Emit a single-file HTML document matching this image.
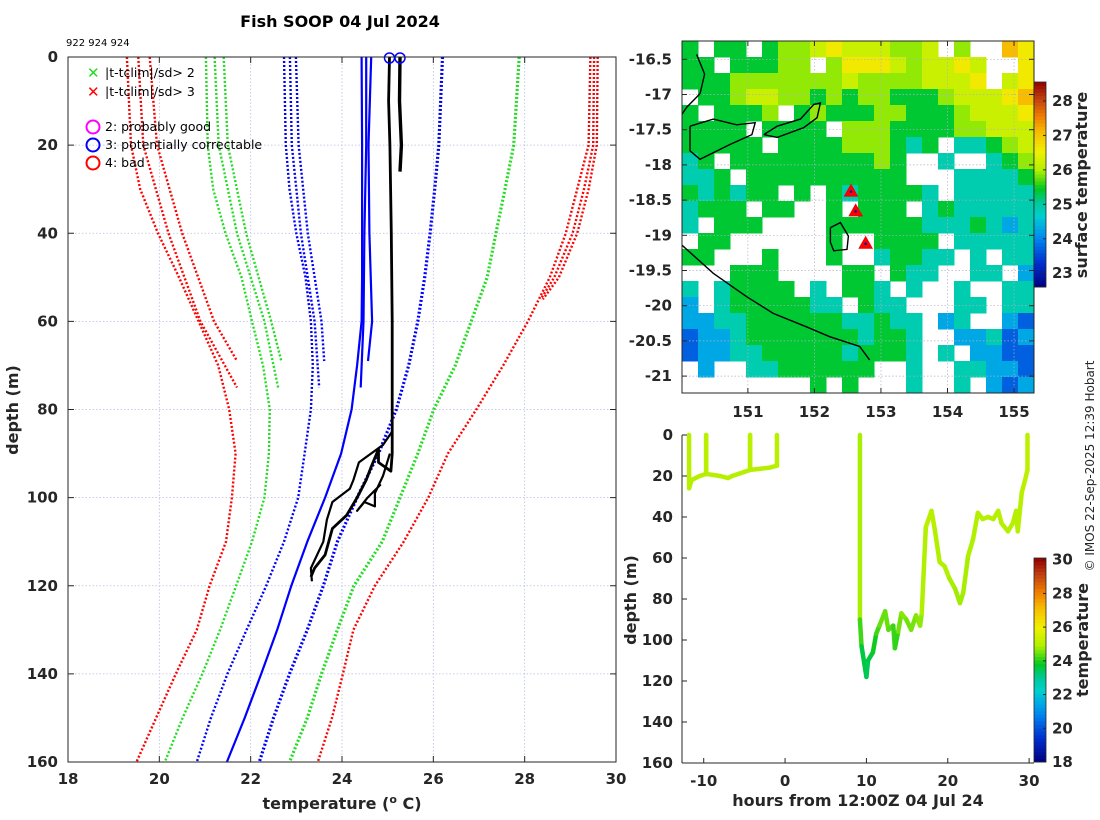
<!DOCTYPE html>
<html><head><meta charset="utf-8"><title>Fish SOOP 04 Jul 2024</title>
<style>
html,body{margin:0;padding:0;background:#fff;}
svg{display:block;font-family:"DejaVu Sans","Liberation Sans",sans-serif;}
.tk{font-size:15px;font-weight:bold;fill:#262626;}
.lab{font-size:16px;font-weight:bold;fill:#262626;}
.leg{font-size:12.5px;fill:#000;}
</style></head>
<body>
<svg id="fig" width="1100" height="820" viewBox="0 0 1100 820" xmlns="http://www.w3.org/2000/svg">
<text x="340" y="27" text-anchor="middle" style="font-size:16px;font-weight:bold;fill:#000">Fish SOOP 04 Jul 2024</text>
<text x="66" y="46" style="font-size:10px;fill:#000">922 924 924</text>
<g id="main"></g>
<g id="map"></g>
<g id="ts"></g>
<text transform="translate(1094,466) rotate(-90)" text-anchor="middle" style="font-size:12px;fill:#262626">© IMOS 22-Sep-2025 12:39 Hobart</text>
</svg>
<script>
// ---------------- profile plot data (depth m, temperature C) ----------------
const profDepths = [0,20,30,40,50,60,70,80,90,100,110,120,130,140,150,160];
const redLeftLong   = [19.29,19.38,19.58,19.97,20.43,20.86,21.29,21.53,21.67,21.59,21.46,21.10,20.82,20.36,19.93,19.50];
const greenLeftLong = [21.02,21.06,21.18,21.45,21.80,22.03,22.27,22.42,22.40,22.30,22.03,21.68,21.33,20.94,20.51,20.12];
const blueDotLong   = [22.73,22.77,22.85,23.00,23.20,23.32,23.36,23.32,23.18,23.04,22.73,22.34,21.91,21.49,21.13,20.82];
const blueSolidLong = [24.43,24.44,24.44,24.44,24.44,24.43,24.33,24.21,23.98,23.63,23.24,22.89,22.58,22.23,21.87,21.48];
const blueDotRight  = [26.20,26.12,26.03,25.93,25.81,25.66,25.46,25.19,24.80,24.33,23.90,23.59,23.24,22.85,22.50,22.19];
const greenRight    = [27.88,27.76,27.57,27.37,27.18,26.83,26.48,26.01,25.66,25.27,24.88,24.26,23.90,23.55,23.24,22.85];
const redRight      = [29.44,29.40,29.15,28.90,28.55,28.07,27.53,26.94,26.32,25.89,25.35,24.72,24.25,24.02,23.78,23.47];
const shortDepthsA = [0,20,40,60,75];
const shortDepthsB = [0,20,40,60,69];
const redShortA   = [19.54,19.65,20.20,20.90,21.70];
const redShortB   = [19.79,19.95,20.50,21.20,21.70];
const greenShortA = [21.21,21.30,21.70,22.30,22.60];
const greenShortB = [21.41,21.50,21.90,22.45,22.67];
const blueShortA  = [22.86,22.90,23.10,23.40,23.50];
const blueShortB  = [22.99,23.05,23.25,23.55,23.61];
const blueSolidA  = [24.53,24.53,24.49,24.47,24.41];
const blueSolidB  = [24.64,24.58,24.60,24.66,24.57];
const redRightDepths = [0,20,30,40,50,55];
const redRightB = [29.52,29.50,29.30,29.05,28.65,28.35];
const redRightC = [29.60,29.58,29.40,29.15,28.75,28.40];
const obsA_depth = [0,10,20,40,60,80,90,94,92,89,93,96,100,104,107,113,116,118];
const obsA_temp  = [25.04,25.02,25.05,25.08,25.10,25.10,25.10,25.07,24.80,24.80,24.64,24.53,24.33,24.10,23.79,23.63,23.40,23.32];
const obsB_depth = [85,88,92,96,98,101,105,110,116,119];
const obsB_temp  = [25.10,24.90,24.37,24.25,24.17,23.79,23.67,23.59,23.32,23.34];
const obsC_depth = [90,95,99,102,101,103,100,97];
const obsC_temp  = [25.05,24.90,24.72,24.72,24.49,24.33,24.56,24.85];
const obsD_depth = [0,10,20,26];
const obsD_temp  = [25.27,25.26,25.30,25.27];
const flagDepth = [0,0];
const flagTemp  = [25.04,25.27];
const tempTicks = [18,20,22,24,26,28,30];
const depthTicks = [0,20,40,60,80,100,120,140,160];

// ---------------- map data ----------------
const lonTicks = [151,152,153,154,155];
const latTicks = [-16.5,-17,-17.5,-18,-18.5,-19,-19.5,-20,-20.5,-21];
const mapCodeTemps = [null,23.7,24.3,24.9,25.4,25.9,26.2,26.6,27.1];
const mapRows = [
"4.44.45567666556.5..87",
"44.44455.5777656676..7",
"4445555555655556667.67",
".445665545455444566678",
"4.4445.454445544456667",
"4444.4444.555444455666",
"44444.4444555434.33456",
"34.44444444454..3..345",
"334.4444444444...33334",
"434344.4.4344443.33333",
"3444.44..4.444.3433333",
"3.444....4444443334323",
".44......4..4444.33333",
"44...4...4..34433.3.33",
"...444....44.433..33.2",
"3.34444.3.443.3..3..33",
"2.34444433.433...33.33",
"223344444433433.23..21",
"122344444443443..22312",
"122334444434443.3.2211",
".2..33444444..3..33221",
"........4.4...3..3.212"
];
const tripLon = [152.55,152.62,152.77];
const tripLat = [-18.38,-18.66,-19.12];
const coastIslandN_lon = [150.23,150.35,150.28,150.08,150.01];
const coastIslandN_lat = [-16.43,-16.71,-16.99,-17.18,-17.28];
const islandA_lon = [150.13,150.48,150.83,151.11,151.06,150.73,150.28,150.13,150.13];
const islandA_lat = [-17.45,-17.35,-17.43,-17.40,-17.57,-17.71,-17.92,-17.80,-17.45];
const islandB_lon = [151.24,151.44,151.79,151.99,152.09,152.04,151.84,151.44,151.24];
const islandB_lat = [-17.57,-17.45,-17.35,-17.14,-17.12,-17.33,-17.47,-17.61,-17.57];
const islandC_lon = [152.24,152.39,152.51,152.49,152.29,152.24,152.24];
const islandC_lat = [-18.89,-18.82,-19.01,-19.20,-19.22,-19.10,-18.89];
const mainland_lon = [150.01,150.48,150.98,151.38,151.88,152.23,152.68,152.83];
const mainland_lat = [-19.14,-19.54,-19.87,-20.11,-20.30,-20.44,-20.58,-20.77];
const sstTicks = [23,24,25,26,27,28];

// ---------------- time-depth data ----------------
const tdHours = [-11.8,-11.8,-11.5,-10.5,-9.7,-9.7,-9.7,-8,-7,-6.5,-5,-4.3,-4.3,-4.3,-2,-1,-1];
const tdDepth = [0,26,22,20,19,0,19,20,21,20,18,17,0,17,16,15,0];
const tdTemp  = [25.1,25.0,25.0,25.0,25.0,25.1,25.0,25.0,25.0,25.0,25.0,25.0,25.1,25.0,25.0,25.0,25.1];
const td2Hours = [9.2,9.2,9.4,10.0,10.2,10.8,11.2,11.6,12.3,12.7,13.3,13.5,13.9,14.3,14.9,15.5,16.1,16.6,16.8,17.3,18.0,18.4,19.0,19.6,20.2,20.9,21.5,21.9,22.5,23.1,23.7,24.3,24.96,25.6,26.2,26.6,27.4,28.0,28.4,28.6,29.1,29.5,29.8,29.8];
const td2Depth = [0,90,103,118,110,106,97,93,86,95,93,104,96,87,90,95,88,93,87,45,37,46,62,64,70,75,82,77,59,51,38,41,40,41,37,43,47,43,37,47,28,22,17,0];
const td2Temp  = [25.1,24.6,23.8,23.4,23.5,23.7,24.1,24.3,24.6,24.3,24.4,23.9,24.3,24.7,24.6,24.4,24.7,24.6,24.8,25.0,25.1,25.0,24.9,24.9,24.9,24.8,24.8,24.8,24.9,24.9,25.0,25.0,25.0,25.0,25.0,25.0,25.0,25.0,25.0,25.0,25.0,25.1,25.1,25.1];
const hourTicks = [-10,0,10,20,30];
const tempCbTicks = [18,20,22,24,26,28,30];

// ---------------- helpers ----------------
const NS='http://www.w3.org/2000/svg';
function mk(parent,tag,attrs,txt){const e=document.createElementNS(NS,tag);for(const k in attrs)e.setAttribute(k,attrs[k]);if(txt!==undefined)e.textContent=txt;parent.appendChild(e);return e;}
const cmapStops=[[0,[0,0,128]],[0.12,[0,48,208]],[0.25,[0,144,240]],[0.35,[0,208,208]],[0.42,[0,200,144]],[0.48,[0,200,32]],[0.57,[176,240,0]],[0.66,[240,240,0]],[0.75,[248,192,0]],[0.83,[240,128,0]],[0.92,[192,64,16]],[1,[144,0,0]]];
function cmap(f){f=Math.max(0,Math.min(1,f));for(let i=1;i<cmapStops.length;i++){if(f<=cmapStops[i][0]){const a=cmapStops[i-1],b=cmapStops[i];const t=(f-a[0])/(b[0]-a[0]);const c=a[1].map((v,j)=>Math.round(v+(b[1][j]-v)*t));return 'rgb('+c.join(',')+')';}}return 'rgb(144,0,0)';}

// ---------------- main profile plot ----------------
const M=document.getElementById('main');
const mx0=68,mx1=616,my0=57,my1=762;
const xT=t=>mx0+(t-18)/12*(mx1-mx0);
const yD=d=>my0+d/160*(my1-my0);
for(const t of tempTicks){
  const g=mk(M,'line',{x1:xT(t),x2:xT(t),y1:my0,y2:my1,stroke:'#b8bfe0','stroke-width':0.8,'stroke-dasharray':'1.5,2'});
  
  
  const l=mk(M,'text',{x:xT(t),y:my1+22,'text-anchor':'middle','class':'tk'},String(t));
  
  
  const tk=mk(M,'line',{x1:xT(t),x2:xT(t),y1:my0,y2:my0+6,stroke:'#262626'});
  
  
  const tk2=mk(M,'line',{x1:xT(t),x2:xT(t),y1:my1,y2:my1-6,stroke:'#262626'});
  
  
}
for(const d of depthTicks){
  const g=mk(M,'line',{x1:mx0,x2:mx1,y1:yD(d),y2:yD(d),stroke:'#b8bfe0','stroke-width':0.8,'stroke-dasharray':'1.5,2'});
  
  
  const l=mk(M,'text',{x:mx0-10,y:yD(d)+5,'text-anchor':'end','class':'tk'},String(d));
  
  
  const tk=mk(M,'line',{x1:mx0,x2:mx0+6,y1:yD(d),y2:yD(d),stroke:'#262626'});
  
  
  const tk2=mk(M,'line',{x1:mx1,x2:mx1-6,y1:yD(d),y2:yD(d),stroke:'#262626'});
  
  
}
function prof(depths,temps,color,dotted,w,name){
  const pts=depths.map((d,i)=>xT(temps[i]).toFixed(1)+','+yD(d).toFixed(1)).join(' ');
  const p=mk(M,'polyline',{points:pts,fill:'none',stroke:color,'stroke-width':w,'stroke-dasharray':dotted?'2,2':'none','stroke-linejoin':'round'});
  
  
}
prof(shortDepthsA,redShortA,'#ff0000',true,2.4,'clim-3sd-low-short-a');
prof(shortDepthsB,redShortB,'#ff0000',true,2.4,'clim-3sd-low-short-b');
prof(profDepths,redLeftLong,'#ff0000',true,2.4,'clim-3sd-low');
prof(shortDepthsA,greenShortA,'#22dd22',true,2.4,'clim-2sd-low-short-a');
prof(shortDepthsB,greenShortB,'#22dd22',true,2.4,'clim-2sd-low-short-b');
prof(profDepths,greenLeftLong,'#22dd22',true,2.4,'clim-2sd-low');
prof(shortDepthsA,blueShortA,'#0000ff',true,2.4,'clim-1sd-low-short-a');
prof(shortDepthsB,blueShortB,'#0000ff',true,2.4,'clim-1sd-low-short-b');
prof(profDepths,blueDotLong,'#0000ff',true,2.4,'clim-1sd-low');
prof(shortDepthsA,blueSolidA,'#0000ff',false,2.2,'clim-mean-short-a');
prof(shortDepthsB,blueSolidB,'#0000ff',false,2.2,'clim-mean-short-b');
prof(profDepths,blueSolidLong,'#0000ff',false,2.2,'clim-mean');
prof(profDepths,blueDotRight,'#0000ff',true,3.2,'clim-1sd-high');
prof(profDepths,greenRight,'#22dd22',true,3.2,'clim-2sd-high');
prof(profDepths,redRight,'#ff0000',true,2.4,'clim-3sd-high');
prof(redRightDepths,redRightB,'#ff0000',true,2.4,'clim-3sd-high-b');
prof(redRightDepths,redRightC,'#ff0000',true,2.4,'clim-3sd-high-c');
prof(obsA_depth,obsA_temp,'#000',false,2.8,'observed-profile-a');
prof(obsB_depth,obsB_temp,'#000',false,2.2,'observed-profile-b');
prof(obsC_depth,obsC_temp,'#000',false,2.2,'observed-profile-c');
prof(obsD_depth,obsD_temp,'#000',false,3.4,'observed-profile-d');
for(let i=0;i<flagDepth.length;i++){
  const c=mk(M,'circle',{cx:xT(flagTemp[i]),cy:yD(flagDepth[i])+1,r:5,fill:'none',stroke:'#0000ff','stroke-width':1.5});
  
  
}
const box=mk(M,'rect',{x:mx0,y:my0,width:mx1-mx0,height:my1-my0,fill:'none',stroke:'#262626','stroke-width':1});


const xl=mk(M,'text',{x:342,y:809,'text-anchor':'middle','class':'lab'});
xl.innerHTML='temperature (<tspan dy="-6" style="font-size:11px">o</tspan><tspan dy="6"> C)</tspan>';


const yl=mk(M,'text',{transform:'translate(18,410) rotate(-90)','text-anchor':'middle','class':'lab'},'depth (m)');


const legX=[['#22dd22',73,'|t-tclim|/sd> 2'],['#ff0000',92,'|t-tclim|/sd> 3']];
for(const [c,y,t] of legX){
  const g=mk(M,'text',{x:87,y:y+5,style:'font-size:15px;font-weight:bold;fill:'+c},'✕');
  
  
  const tt=mk(M,'text',{x:105,y:y+4,'class':'leg'},t);
  
  
}
const legO=[['#ff00ff',127,'2: probably good'],['#0000ff',145,'3: potentially correctable'],['#ff0000',163,'4: bad']];
for(const [c,y,t] of legO){
  const g=mk(M,'circle',{cx:93,cy:y,r:6.5,fill:'none',stroke:c,'stroke-width':2});
  
  
  const tt=mk(M,'text',{x:105,y:y+4,'class':'leg'},t);
  
  
}

// ---------------- map ----------------
const P=document.getElementById('map');
const ax0=682,ax1=1034,ay0=41,ay1=393;
const lon0=150.01,lon1=155.3,lat0=-16.24,lat1=-21.24;
const xLon=l=>ax0+(l-lon0)/(lon1-lon0)*(ax1-ax0);
const yLat=l=>ay0+(l-lat0)/(lat1-lat0)*(ay1-ay0);
const sstMin=22.6,sstMax=28.55;
const nR=mapRows.length;
for(let r=0;r<nR;r++){
  const row=mapRows[r];const nC=22;
  const cw=(ax1-ax0)/nC,ch=(ay1-ay0)/nR;
  for(let c=0;c<nC&&c<row.length;c++){
    const ch_=row[c];if(ch_==='.')continue;
    const v=mapCodeTemps[parseInt(ch_,10)];if(v==null)continue;
    const cell=mk(P,'rect',{x:(ax0+c*cw).toFixed(2),y:(ay0+r*ch).toFixed(2),width:(cw+0.5).toFixed(2),height:(ch+0.5).toFixed(2),fill:cmap((v-sstMin)/(sstMax-sstMin))});
    
    
  }
}
for(const l of lonTicks){
  const g=mk(P,'line',{x1:xLon(l),x2:xLon(l),y1:ay0,y2:ay1,stroke:'#b0b0c8','stroke-width':0.7,'stroke-dasharray':'1.5,2'});
  
  
  const t=mk(P,'text',{x:xLon(l),y:ay1+24,'text-anchor':'middle','class':'tk'},String(l));
  
  
  const tk=mk(P,'line',{x1:xLon(l),x2:xLon(l),y1:ay1,y2:ay1-5,stroke:'#262626'});
  
  
  const tk2=mk(P,'line',{x1:xLon(l),x2:xLon(l),y1:ay0,y2:ay0+5,stroke:'#262626'});
  
  
}
for(const l of latTicks){
  const g=mk(P,'line',{x1:ax0,x2:ax1,y1:yLat(l),y2:yLat(l),stroke:'#b0b0c8','stroke-width':0.7,'stroke-dasharray':'1.5,2'});
  
  
  const t=mk(P,'text',{x:ax0-10,y:yLat(l)+5,'text-anchor':'end','class':'tk'},String(l));
  
  
  const tk=mk(P,'line',{x1:ax0,x2:ax0+5,y1:yLat(l),y2:yLat(l),stroke:'#262626'});
  
  
  const tk2=mk(P,'line',{x1:ax1,x2:ax1-5,y1:yLat(l),y2:yLat(l),stroke:'#262626'});
  
  
}
function coast(lons,lats,name){
  const pts=lons.map((l,i)=>xLon(l).toFixed(1)+','+yLat(lats[i]).toFixed(1)).join(' ');
  const p=mk(P,'polyline',{points:pts,fill:'none',stroke:'#000','stroke-width':1.4});
  
  
}
coast(coastIslandN_lon,coastIslandN_lat,'coastline-north');
coast(islandA_lon,islandA_lat,'island-coast-a');
coast(islandB_lon,islandB_lat,'island-coast-b');
coast(islandC_lon,islandC_lat,'island-coast-c');
coast(mainland_lon,mainland_lat,'mainland-coast');
for(let i=0;i<tripLon.length;i++){
  const x=xLon(tripLon[i]),y=yLat(tripLat[i]);
  const t=mk(P,'polygon',{points:`${x},${y-7} ${x-6.5},${y+4.5} ${x+6.5},${y+4.5}`,fill:'#ff0000',stroke:'#ee0000','stroke-width':1});
  
  
  const d=mk(P,'circle',{cx:x,cy:y,r:1.3,fill:'#0000aa'});
  
  
}
const mf=mk(P,'rect',{x:ax0,y:ay0,width:ax1-ax0,height:ay1-ay0,fill:'none',stroke:'#262626'});


const cbx=1034,cbw=12,cby0=82,cby1=287;
const yS=v=>cby1-(v-sstMin)/(sstMax-sstMin)*(cby1-cby0);
for(let i=0;i<60;i++){
  const f0=i/60;const y=cby1-(i+1)/60*(cby1-cby0);
  const s=mk(P,'rect',{x:cbx,y:y.toFixed(2),width:cbw,height:((cby1-cby0)/60+0.4).toFixed(2),fill:cmap(f0+0.5/60)});
  
  
}
mk(P,'rect',{x:cbx,y:cby0,width:cbw,height:cby1-cby0,fill:'none',stroke:'#262626','stroke-width':0.8});
for(const v of sstTicks){
  const t=mk(P,'text',{x:cbx+18,y:yS(v)+5,'class':'tk'},String(v));
  
  
  mk(P,'line',{x1:cbx+cbw,x2:cbx+cbw-3,y1:yS(v),y2:yS(v),stroke:'#262626'});
}
const sl=mk(P,'text',{transform:'translate(1087,185) rotate(-90)','text-anchor':'middle','class':'lab'},'surface temperature');



// ---------------- time-depth plot ----------------
const T=document.getElementById('ts');
const bx0=682,bx1=1034,by0=435,by1=763;
const h0=-12.67,h1=30.6;
const xH=h=>bx0+(h-h0)/(h1-h0)*(bx1-bx0);
const yB=d=>by0+d/160*(by1-by0);
const tMin=18,tMax=30.1;
function seg(hs,ds,ts,name){
  for(let i=1;i<hs.length;i++){
    const s=mk(T,'line',{x1:xH(hs[i-1]),y1:yB(ds[i-1]),x2:xH(hs[i]),y2:yB(ds[i]),stroke:cmap(((ts[i]+ts[i-1])/2-tMin)/(tMax-tMin)),'stroke-width':4.5,'stroke-linecap':'round'});
    
    
  }
}
seg(tdHours,tdDepth,tdTemp,'track-segment-1');
seg(td2Hours,td2Depth,td2Temp,'track-segment-2');
for(const h of hourTicks){
  const t=mk(T,'text',{x:xH(h),y:by1+23,'text-anchor':'middle','class':'tk'},String(h));
  
  
  mk(T,'line',{x1:xH(h),x2:xH(h),y1:by1,y2:by1-5,stroke:'#262626'});
}
for(const d of depthTicks){
  const t=mk(T,'text',{x:bx0-9,y:yB(d)+5,'text-anchor':'end','class':'tk'},String(d));
  
  
  mk(T,'line',{x1:bx0,x2:bx0+5,y1:yB(d),y2:yB(d),stroke:'#262626'});
}
const la=mk(T,'line',{x1:bx0,x2:bx0,y1:by0,y2:by1,stroke:'#262626'});


const ba=mk(T,'line',{x1:bx0,x2:bx1,y1:by1,y2:by1,stroke:'#262626'});


const hx=mk(T,'text',{x:858,y:806,'text-anchor':'middle','class':'lab'},'hours from 12:00Z 04 Jul 24');


const hy=mk(T,'text',{transform:'translate(636,600) rotate(-90)','text-anchor':'middle','class':'lab'},'depth (m)');


const c2x=1034,c2y0=558,c2y1=762;
const yC=v=>c2y1-(v-tMin)/(tMax-tMin)*(c2y1-c2y0);
for(let i=0;i<60;i++){
  const y=c2y1-(i+1)/60*(c2y1-c2y0);
  const s=mk(T,'rect',{x:c2x,y:y.toFixed(2),width:12,height:((c2y1-c2y0)/60+0.4).toFixed(2),fill:cmap((i+0.5)/60)});
  
  
}
mk(T,'rect',{x:c2x,y:c2y0,width:12,height:c2y1-c2y0,fill:'none',stroke:'#262626','stroke-width':0.8});
for(const v of tempCbTicks){
  const t=mk(T,'text',{x:c2x+18,y:yC(v)+5,'class':'tk'},String(v));
  
  
  mk(T,'line',{x1:c2x+12,x2:c2x+9,y1:yC(v),y2:yC(v),stroke:'#262626'});
}
const tl=mk(T,'text',{transform:'translate(1088,640) rotate(-90)','text-anchor':'middle','class':'lab'},'temperature');


</script>
</body></html>
